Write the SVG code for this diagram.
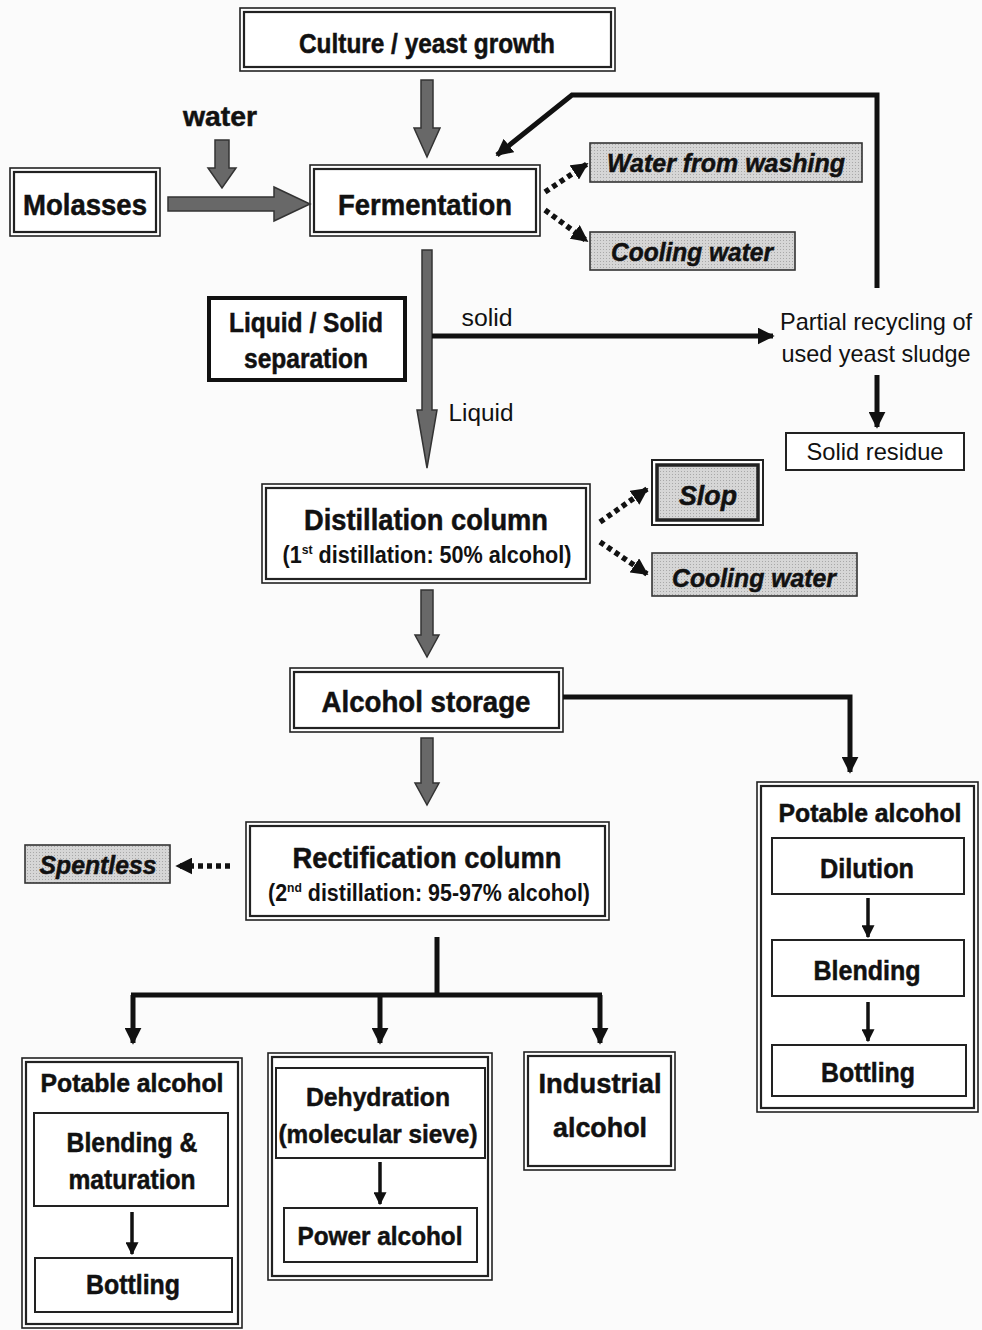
<svg xmlns="http://www.w3.org/2000/svg" width="982" height="1330" viewBox="0 0 982 1330">
<style>
text{font-family:"Liberation Sans",Arial,sans-serif;fill:#111;text-anchor:middle}
.b{font-weight:bold;stroke:#111;stroke-width:0.5}
.bi{font-weight:bold;font-style:italic;stroke:#111;stroke-width:0.5}
.o{fill:#fff;stroke:#222;stroke-width:1.6}
.i{fill:none;stroke:#222;stroke-width:2.2}
.s{fill:#fff;stroke:#222;stroke-width:2}
.g{fill:url(#dots);stroke:#333;stroke-width:1.6}
.ga{fill:#686868;stroke:#333;stroke-width:1.5}
.ln{fill:none;stroke:#111;stroke-width:5}
.ln3{fill:none;stroke:#111;stroke-width:3.5}
.dt{fill:none;stroke:#111;stroke-width:5.5;stroke-dasharray:5 4}
</style>
<defs>
<pattern id="dots" width="3" height="3" patternUnits="userSpaceOnUse">
<rect width="3" height="3" fill="#d6d6d6"/>
<rect width="1" height="1" fill="#a8a8a8"/>
</pattern>
<marker id="ah" viewBox="0 0 10 10" refX="9" refY="5" markerWidth="17" markerHeight="17" markerUnits="userSpaceOnUse" orient="auto"><path d="M0,0 L10,5 L0,10 z" fill="#111"/></marker>
<marker id="ahs" viewBox="0 0 10 10" refX="9" refY="5" markerWidth="13" markerHeight="13" markerUnits="userSpaceOnUse" orient="auto"><path d="M0,0 L10,5 L0,10 z" fill="#111"/></marker>
</defs>
<rect width="982" height="1330" fill="#fbfbfb"/>

<g id="culture">
<rect class="o" x="240" y="8" width="375" height="63"/><rect class="i" x="244" y="12" width="367" height="55"/>
<text class="b" x="427" y="53" font-size="27" textLength="256" lengthAdjust="spacingAndGlyphs">Culture / yeast growth</text>
</g>
<g id="water"><text class="b" x="220" y="126" font-size="27" textLength="74" lengthAdjust="spacingAndGlyphs">water</text></g>
<g id="molasses">
<rect class="o" x="10" y="168" width="150" height="68"/><rect class="i" x="14" y="172" width="142" height="60"/>
<text class="b" x="85" y="215" font-size="29" textLength="124" lengthAdjust="spacingAndGlyphs">Molasses</text>
</g>
<g id="fermentation">
<rect class="o" x="310" y="165" width="230" height="71"/><rect class="i" x="314" y="169" width="222" height="63"/>
<text class="b" x="425" y="215" font-size="30" textLength="174" lengthAdjust="spacingAndGlyphs">Fermentation</text>
</g>
<g id="washing">
<rect class="g" x="590" y="143" width="272" height="39"/>
<text class="bi" x="726" y="172" font-size="26" textLength="238" lengthAdjust="spacingAndGlyphs">Water from washing</text>
</g>
<g id="cooling1">
<rect class="g" x="590" y="232" width="205" height="38"/>
<text class="bi" x="692" y="261" font-size="26" textLength="162" lengthAdjust="spacingAndGlyphs">Cooling water</text>
</g>
<g id="separation">
<rect fill="#fff" stroke="#111" stroke-width="4" x="209" y="298" width="196" height="82"/>
<text class="b" x="306" y="332" font-size="27" textLength="154" lengthAdjust="spacingAndGlyphs">Liquid / Solid</text>
<text class="b" x="306" y="368" font-size="27" textLength="124" lengthAdjust="spacingAndGlyphs">separation</text>
</g>
<g id="labels">
<text x="487" y="326" font-size="23" textLength="51" lengthAdjust="spacingAndGlyphs">solid</text>
<text x="481" y="421" font-size="23" textLength="65" lengthAdjust="spacingAndGlyphs">Liquid</text>
</g>
<g id="recycling">
<text x="876" y="330" font-size="24" textLength="192" lengthAdjust="spacingAndGlyphs">Partial recycling of</text>
<text x="876" y="362" font-size="24" textLength="189" lengthAdjust="spacingAndGlyphs">used yeast sludge</text>
</g>
<g id="residue">
<rect class="s" x="786" y="433" width="178" height="37"/>
<text x="875" y="460" font-size="24" textLength="137" lengthAdjust="spacingAndGlyphs">Solid residue</text>
</g>
<g id="distillation">
<rect class="o" x="262" y="484" width="328" height="99"/><rect class="i" x="266" y="488" width="320" height="91"/>
<text class="b" x="426" y="530" font-size="29" textLength="244" lengthAdjust="spacingAndGlyphs">Distillation column</text>
<text x="427" y="563" font-size="23" font-weight="bold" textLength="289" lengthAdjust="spacingAndGlyphs">(1<tspan font-size="13" dy="-9">st</tspan><tspan dy="9"> distillation: 50% alcohol)</tspan></text>
</g>
<g id="slop">
<rect fill="#fff" stroke="#222" stroke-width="2" x="652" y="460" width="111" height="65"/>
<rect fill="url(#dots)" stroke="#222" stroke-width="3.5" x="657" y="465" width="101" height="55"/>
<text class="bi" x="708" y="505" font-size="28" textLength="58" lengthAdjust="spacingAndGlyphs">Slop</text>
</g>
<g id="cooling2">
<rect class="g" x="652" y="553" width="205" height="43"/>
<text class="bi" x="754" y="587" font-size="26" textLength="164" lengthAdjust="spacingAndGlyphs">Cooling water</text>
</g>
<g id="storage">
<rect class="o" x="290" y="668" width="273" height="64"/><rect class="i" x="294" y="672" width="265" height="56"/>
<text class="b" x="426" y="712" font-size="29" textLength="209" lengthAdjust="spacingAndGlyphs">Alcohol storage</text>
</g>
<g id="rectification">
<rect class="o" x="246" y="822" width="363" height="98"/><rect class="i" x="250" y="826" width="355" height="90"/>
<text class="b" x="427" y="868" font-size="29" textLength="269" lengthAdjust="spacingAndGlyphs">Rectification column</text>
<text x="429" y="901" font-size="23" font-weight="bold" textLength="322" lengthAdjust="spacingAndGlyphs">(2<tspan font-size="13" dy="-9">nd</tspan><tspan dy="9"> distillation: 95-97% alcohol)</tspan></text>
</g>
<g id="spentless">
<rect class="g" x="25" y="845" width="145" height="38"/>
<text class="bi" x="98" y="874" font-size="26" textLength="117" lengthAdjust="spacingAndGlyphs">Spentless</text>
</g>
<g id="potable-left">
<rect class="o" x="22" y="1058" width="220" height="270"/><rect class="i" x="26" y="1062" width="212" height="262"/>
<text class="b" x="132" y="1092" font-size="25" textLength="183" lengthAdjust="spacingAndGlyphs">Potable alcohol</text>
<rect class="s" x="34" y="1113" width="194" height="93"/>
<text class="b" x="132" y="1152" font-size="27" textLength="131" lengthAdjust="spacingAndGlyphs">Blending &amp;</text>
<text class="b" x="132" y="1189" font-size="27" textLength="127" lengthAdjust="spacingAndGlyphs">maturation</text>
<rect class="s" x="35" y="1258" width="197" height="54"/>
<text class="b" x="133" y="1294" font-size="27" textLength="94" lengthAdjust="spacingAndGlyphs">Bottling</text>
</g>
<g id="power">
<rect class="o" x="268" y="1053" width="224" height="227"/><rect class="i" x="272" y="1057" width="216" height="219"/>
<rect class="s" x="276" y="1068" width="209" height="90"/>
<text class="b" x="378" y="1106" font-size="26" textLength="144" lengthAdjust="spacingAndGlyphs">Dehydration</text>
<text class="b" x="378" y="1143" font-size="26" textLength="199" lengthAdjust="spacingAndGlyphs">(molecular sieve)</text>
<rect class="s" x="284" y="1208" width="193" height="54"/>
<text class="b" x="380" y="1245" font-size="26" textLength="165" lengthAdjust="spacingAndGlyphs">Power alcohol</text>
</g>
<g id="industrial">
<rect class="o" x="524" y="1052" width="151" height="118"/><rect class="i" x="528" y="1056" width="143" height="110"/>
<text class="b" x="600" y="1093" font-size="28" textLength="123" lengthAdjust="spacingAndGlyphs">Industrial</text>
<text class="b" x="600" y="1137" font-size="28" textLength="94" lengthAdjust="spacingAndGlyphs">alcohol</text>
</g>
<g id="potable-right">
<rect class="o" x="757" y="782" width="221" height="330"/><rect class="i" x="761" y="786" width="213" height="322"/>
<text class="b" x="870" y="822" font-size="25" textLength="183" lengthAdjust="spacingAndGlyphs">Potable alcohol</text>
<rect class="s" x="772" y="838" width="192" height="56"/>
<text class="b" x="867" y="878" font-size="27" textLength="94" lengthAdjust="spacingAndGlyphs">Dilution</text>
<rect class="s" x="772" y="940" width="192" height="56"/>
<text class="b" x="867" y="980" font-size="27" textLength="107" lengthAdjust="spacingAndGlyphs">Blending</text>
<rect class="s" x="772" y="1045" width="194" height="51"/>
<text class="b" x="868" y="1082" font-size="27" textLength="94" lengthAdjust="spacingAndGlyphs">Bottling</text>
</g>

<g id="connectors">
<polygon class="ga" points="421,80 433,80 433,128 440,128 427,157 414,128 421,128"/>
<polygon class="ga" points="215,140 229,140 229,168 236,168 222,188 208,168 215,168"/>
<polygon class="ga" points="168,197 274,197 274,187 310,204 274,221 274,211 168,211"/>
<polygon class="ga" points="422,250 432,250 432,410 437,410 427,468 417,410 422,410"/>
<polygon class="ga" points="421,590 433,590 433,635 439,635 427,657 415,635 421,635"/>
<polygon class="ga" points="421,738 433,738 433,783 439,783 427,805 415,783 421,783"/>
<path class="ln" d="M877,288 V95 H572 L497,155" marker-end="url(#ah)"/>
<path class="ln" d="M432,336 H773" marker-end="url(#ah)"/>
<path class="ln" d="M877,375 V427" marker-end="url(#ah)"/>
<path class="ln" d="M563,697 H850 V772" marker-end="url(#ah)"/>
<path class="ln" d="M437,937 V995 M131,995 H602"/>
<path class="ln" d="M133,995 V1043" marker-end="url(#ah)"/>
<path class="ln" d="M380,995 V1043" marker-end="url(#ah)"/>
<path class="ln" d="M600,995 V1043" marker-end="url(#ah)"/>
<path class="dt" d="M545,192 L587,164" marker-end="url(#ah)"/>
<path class="dt" d="M545,210 L587,241" marker-end="url(#ah)"/>
<path class="dt" d="M600,522 L647,489" marker-end="url(#ah)"/>
<path class="dt" d="M600,542 L647,574" marker-end="url(#ah)"/>
<path class="dt" d="M230,866 L177,866" marker-end="url(#ah)"/>
<path class="ln3" d="M132,1212 V1254" marker-end="url(#ahs)"/>
<path class="ln3" d="M380,1162 V1204" marker-end="url(#ahs)"/>
<path class="ln3" d="M868,898 V937" marker-end="url(#ahs)"/>
<path class="ln3" d="M868,1002 V1041" marker-end="url(#ahs)"/>
</g>
</svg>
